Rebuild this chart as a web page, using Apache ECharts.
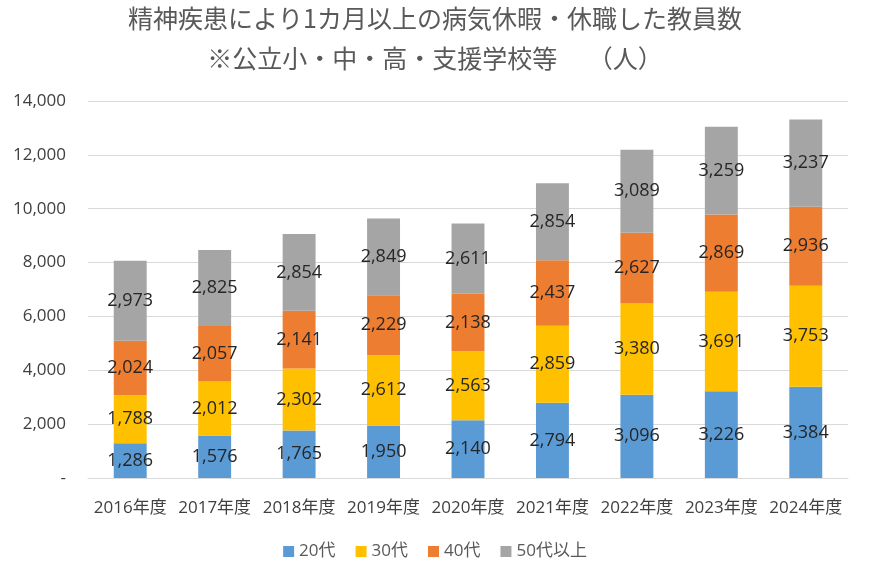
<!DOCTYPE html>
<html>
<head>
<meta charset="utf-8">
<script src="https://cdn.jsdelivr.net/npm/echarts@6/dist/echarts.min.js"></script>
<style>
  html, body { margin: 0; padding: 0; background: #fff; }
  #chart { width: 870px; height: 575px; }
</style>
</head>
<body>
<div id="chart"></div>
<script>
const years = ['2016年度', '2017年度', '2018年度', '2019年度', '2020年度', '2021年度', '2022年度', '2023年度', '2024年度'];
const age20 = [1286, 1576, 1765, 1950, 2140, 2794, 3096, 3226, 3384];
const age30 = [1788, 2012, 2302, 2612, 2563, 2859, 3380, 3691, 3753];
const age40 = [2024, 2057, 2141, 2229, 2138, 2437, 2627, 2869, 2936];
const age50 = [2973, 2825, 2854, 2849, 2611, 2854, 3089, 3259, 3237];

const font = '"Open Sans", "Noto Sans CJK JP", sans-serif';
const fmt = (v) => (v === 0 ? '-' : v.toLocaleString('en-US'));

const makeSeries = (name, data, color) => ({
  name,
  type: 'bar',
  stack: 'total',
  data,
  barWidth: '39%',
  itemStyle: { color },
  label: {
    show: true,
    position: 'inside',
    color: '#262626',
    fontSize: 18,
    fontFamily: font,
    formatter: (p) => fmt(p.value),
  },
});

const chart = echarts.init(document.getElementById('chart'));
chart.setOption({
  backgroundColor: '#fff',
  animation: false,
  title: {
    text: '精神疾患により1カ月以上の病気休暇・休職した教員数\n※公立小・中・高・支援学校等　 （人）',
    left: 'center',
    top: -7,
    textStyle: {
      fontFamily: '"Noto Sans CJK JP", sans-serif',
      fontSize: 25,
      fontWeight: 'normal',
      color: '#595959',
      lineHeight: 40,
    },
  },
  legend: {
    bottom: 10,
    left: 'center',
    itemWidth: 11,
    itemHeight: 11,
    itemGap: 20,
    icon: 'rect',
    textStyle: { fontFamily: font, fontSize: 17, color: '#595959' },
    data: ['20代', '30代', '40代', '50代以上'],
  },
  grid: { left: 88, right: 22, top: 101, bottom: 97 },
  xAxis: {
    type: 'category',
    data: years,
    axisTick: { show: false },
    axisLine: { lineStyle: { color: '#d9d9d9' } },
    axisLabel: { interval: 0, fontFamily: font, fontSize: 17, color: '#404040', margin: 22 },
  },
  yAxis: {
    type: 'value',
    min: 0,
    max: 14000,
    interval: 2000,
    axisLine: { show: false },
    axisTick: { show: false },
    splitLine: { lineStyle: { color: '#d9d9d9' } },
    axisLabel: { fontFamily: font, fontSize: 17, color: '#404040', margin: 22, formatter: fmt },
  },
  series: [
    makeSeries('20代', age20, '#5B9BD5'),
    makeSeries('30代', age30, '#FFC000'),
    makeSeries('40代', age40, '#ED7D31'),
    makeSeries('50代以上', age50, '#A5A5A5'),
  ],
});
</script>
</body>
</html>
